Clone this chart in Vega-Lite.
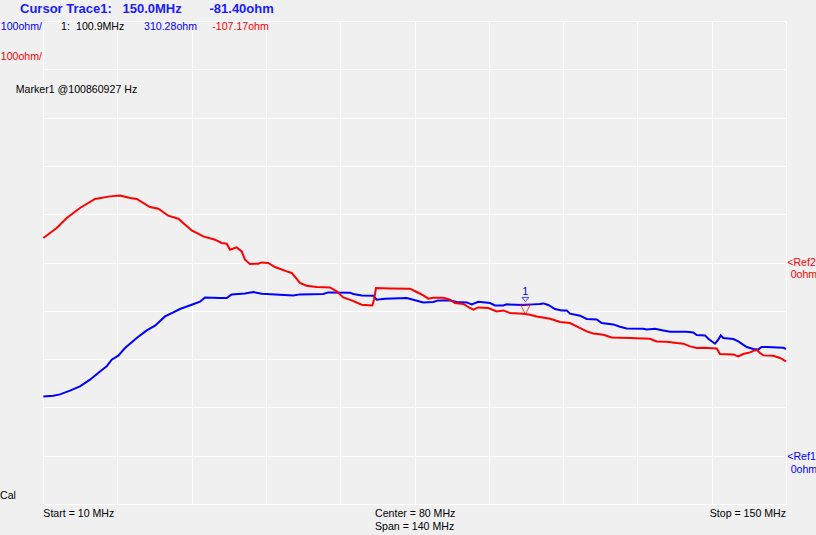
{
  "$schema": "https://vega.github.io/schema/vega-lite/v6.json",
  "width": 743,
  "height": 483,
  "autosize": {"type": "none"},
  "padding": {"left": 43, "top": 21, "right": 30, "bottom": 31},
  "background": "#f0f0f0",
  "config": {
    "view": {"stroke": null, "fill": "#f0f0f0"},
    "text": {"font": "Liberation Sans", "fontSize": 10.6}
  },
  "datasets": {
    "trace1": [
      {"f": 10.06, "v": 122.8}, {"f": 11.94, "v": 124.2}, {"f": 13.2, "v": 126.9}, {"f": 15.09, "v": 134.6},
      {"f": 16.97, "v": 143.5}, {"f": 18.86, "v": 157.4}, {"f": 20.74, "v": 174.5}, {"f": 22.0, "v": 184.9},
      {"f": 22.94, "v": 198.8}, {"f": 24.19, "v": 207.0}, {"f": 25.45, "v": 223.0}, {"f": 27.66, "v": 243.7},
      {"f": 29.54, "v": 259.4}, {"f": 31.11, "v": 269.2}, {"f": 32.99, "v": 288.4}, {"f": 34.55, "v": 296.7},
      {"f": 35.81, "v": 303.7}, {"f": 38.02, "v": 312.6}, {"f": 39.58, "v": 318.8}, {"f": 40.52, "v": 327.7},
      {"f": 43.35, "v": 326.5}, {"f": 44.61, "v": 326.5}, {"f": 45.55, "v": 334.0}, {"f": 48.06, "v": 336.0},
      {"f": 49.63, "v": 338.9}, {"f": 51.21, "v": 335.4}, {"f": 54.66, "v": 333.3}, {"f": 57.16, "v": 331.9},
      {"f": 58.42, "v": 334.0}, {"f": 62.82, "v": 334.8}, {"f": 63.76, "v": 338.1}, {"f": 67.85, "v": 337.5},
      {"f": 68.47, "v": 334.8}, {"f": 70.05, "v": 331.9}, {"f": 72.24, "v": 331.3}, {"f": 72.88, "v": 323.0},
      {"f": 74.44, "v": 325.1}, {"f": 78.53, "v": 326.5}, {"f": 79.77, "v": 323.0}, {"f": 81.66, "v": 317.4},
      {"f": 83.54, "v": 318.2}, {"f": 84.48, "v": 321.5}, {"f": 86.69, "v": 321.5}, {"f": 87.95, "v": 318.2},
      {"f": 89.84, "v": 317.4}, {"f": 90.78, "v": 313.3}, {"f": 92.02, "v": 318.8}, {"f": 94.23, "v": 316.1},
      {"f": 95.17, "v": 311.2}, {"f": 96.73, "v": 311.2}, {"f": 97.37, "v": 313.3}, {"f": 100.5, "v": 312.0},
      {"f": 102.38, "v": 313.3}, {"f": 103.65, "v": 314.1}, {"f": 104.27, "v": 315.3}, {"f": 105.21, "v": 312.0},
      {"f": 106.47, "v": 303.7}, {"f": 107.74, "v": 300.8}, {"f": 108.68, "v": 300.8}, {"f": 109.3, "v": 294.0},
      {"f": 111.19, "v": 289.9}, {"f": 112.45, "v": 283.0}, {"f": 114.33, "v": 282.2}, {"f": 115.27, "v": 274.7},
      {"f": 117.46, "v": 271.8}, {"f": 118.72, "v": 267.1}, {"f": 119.98, "v": 263.5}, {"f": 123.11, "v": 262.9},
      {"f": 123.75, "v": 261.5}, {"f": 125.31, "v": 262.9}, {"f": 126.88, "v": 259.4}, {"f": 128.14, "v": 256.7},
      {"f": 131.29, "v": 256.7}, {"f": 132.53, "v": 255.3}, {"f": 133.17, "v": 249.9}, {"f": 134.74, "v": 249.1},
      {"f": 135.36, "v": 242.2}, {"f": 136.62, "v": 231.9}, {"f": 137.24, "v": 240.2}, {"f": 137.7, "v": 249.1},
      {"f": 138.19, "v": 243.7}, {"f": 140.07, "v": 241.6}, {"f": 141.01, "v": 236.6}, {"f": 142.6, "v": 225.1},
      {"f": 143.84, "v": 220.9}, {"f": 144.78, "v": 220.1}, {"f": 145.42, "v": 225.1}, {"f": 146.36, "v": 225.1},
      {"f": 149.49, "v": 223.6}, {"f": 150.0, "v": 220.9}
    ],
    "trace2": [
      {"f": 10.06, "v": 50.7}, {"f": 12.58, "v": 71.4}, {"f": 14.47, "v": 92.1}, {"f": 16.97, "v": 112.8},
      {"f": 19.8, "v": 131.5}, {"f": 22.62, "v": 136.9}, {"f": 24.51, "v": 138.9}, {"f": 26.39, "v": 133.5},
      {"f": 27.66, "v": 131.5}, {"f": 30.16, "v": 114.9}, {"f": 31.73, "v": 111.4}, {"f": 33.61, "v": 96.9},
      {"f": 35.5, "v": 90.7}, {"f": 38.02, "v": 66.5}, {"f": 40.21, "v": 54.0}, {"f": 42.41, "v": 47.2},
      {"f": 43.67, "v": 40.4}, {"f": 44.61, "v": 38.9}, {"f": 45.24, "v": 26.5}, {"f": 46.5, "v": 31.3},
      {"f": 47.44, "v": 23.0}, {"f": 48.06, "v": 5.8}, {"f": 49.0, "v": -3.1}, {"f": 50.57, "v": -2.5},
      {"f": 51.21, "v": 0.2}, {"f": 52.45, "v": -1.0}, {"f": 53.71, "v": -9.3}, {"f": 55.92, "v": -18.4},
      {"f": 56.86, "v": -21.7}, {"f": 58.42, "v": -42.4}, {"f": 59.68, "v": -48.0}, {"f": 61.57, "v": -50.7},
      {"f": 64.08, "v": -51.6}, {"f": 65.34, "v": -59.8}, {"f": 66.58, "v": -72.3}, {"f": 68.17, "v": -78.5},
      {"f": 70.05, "v": -87.4}, {"f": 72.05, "v": -88.8}, {"f": 72.37, "v": -77.0}, {"f": 72.75, "v": -52.8},
      {"f": 75.38, "v": -53.6}, {"f": 79.15, "v": -54.2}, {"f": 80.41, "v": -61.1}, {"f": 81.66, "v": -68.1},
      {"f": 82.6, "v": -74.9}, {"f": 83.54, "v": -72.9}, {"f": 85.43, "v": -72.9}, {"f": 86.69, "v": -77.0},
      {"f": 87.63, "v": -83.9}, {"f": 89.2, "v": -85.9}, {"f": 90.46, "v": -94.2}, {"f": 91.08, "v": -97.7},
      {"f": 92.02, "v": -93.0}, {"f": 93.91, "v": -94.2}, {"f": 95.49, "v": -101.2}, {"f": 96.73, "v": -99.2},
      {"f": 98.0, "v": -104.6}, {"f": 100.5, "v": -106.0}, {"f": 101.76, "v": -108.1}, {"f": 103.03, "v": -111.6},
      {"f": 105.53, "v": -116.4}, {"f": 106.16, "v": -118.4}, {"f": 107.42, "v": -123.2}, {"f": 109.3, "v": -125.3},
      {"f": 110.56, "v": -132.3}, {"f": 112.45, "v": -142.7}, {"f": 113.69, "v": -146.9}, {"f": 115.58, "v": -149.6},
      {"f": 117.16, "v": -155.2}, {"f": 120.61, "v": -156.3}, {"f": 124.37, "v": -157.8}, {"f": 125.64, "v": -163.4},
      {"f": 127.52, "v": -164.0}, {"f": 129.4, "v": -166.7}, {"f": 130.65, "v": -168.1}, {"f": 131.91, "v": -173.7},
      {"f": 133.17, "v": -177.0}, {"f": 134.42, "v": -176.4}, {"f": 136.94, "v": -177.8}, {"f": 137.56, "v": -189.4},
      {"f": 140.07, "v": -190.3}, {"f": 141.01, "v": -194.4}, {"f": 141.95, "v": -189.4}, {"f": 143.22, "v": -186.1},
      {"f": 144.48, "v": -180.5}, {"f": 145.1, "v": -187.4}, {"f": 145.72, "v": -192.3}, {"f": 147.61, "v": -193.0},
      {"f": 148.87, "v": -197.7}, {"f": 150.0, "v": -204.7}
    ]
  },
  "resolve": {"scale": {"y": "independent"}},
  "layer": [
    {
      "data": {"name": "trace1"},
      "mark": {"type": "line", "color": "#0000ff", "strokeWidth": 2},
      "encoding": {
        "x": {"field": "f", "type": "quantitative",
              "scale": {"domain": [10, 150], "nice": false, "zero": false},
              "axis": {"values": [10, 24, 38, 52, 66, 80, 94, 108, 122, 136, 150], "labels": false, "ticks": false, "domain": false, "title": null, "grid": true, "gridColor": "#ffffff", "gridOpacity": 1, "gridWidth": 1}},
        "y": {"field": "v", "type": "quantitative",
              "scale": {"domain": [-100, 900], "nice": false, "zero": false},
              "axis": {"values": [-100, 0, 100, 200, 300, 400, 500, 600, 700, 800, 900], "labels": false, "ticks": false, "domain": false, "title": null, "grid": true, "gridColor": "#ffffff", "gridOpacity": 1, "gridWidth": 1}}
      }
    },
    {
      "data": {"name": "trace2"},
      "mark": {"type": "line", "color": "#ff0000", "strokeWidth": 2},
      "encoding": {
        "x": {"field": "f", "type": "quantitative"},
        "y": {"field": "v", "type": "quantitative", "scale": {"domain": [-500, 500], "nice": false, "zero": false}, "axis": null}
      }
    },
    {
      "data": {"values": [{"f": 100.9, "v": -107.17}]},
      "mark": {"type": "point", "shape": "M-1,-2L1,-2L0,0Z", "filled": false, "stroke": "#ff0000", "strokeWidth": 1, "size": 100},
      "encoding": {
        "x": {"field": "f", "type": "quantitative"},
        "y": {"field": "v", "type": "quantitative", "scale": {"domain": [-500, 500], "nice": false, "zero": false}, "axis": null}
      }
    },
    {
      "data": {"values": [{"f": 100.9, "v": 310.28}]},
      "layer": [
        {
          "mark": {"type": "point", "shape": "M-1,-2.4L1,-2.4L0,-1.2Z", "filled": false, "stroke": "#0000ff", "strokeWidth": 1, "size": 49},
          "encoding": {
            "x": {"field": "f", "type": "quantitative"},
            "y": {"field": "v", "type": "quantitative", "scale": {"domain": [-100, 900], "nice": false, "zero": false}, "axis": null}
          }
        },
        {
          "mark": {"type": "text", "text": "1", "color": "#0000ff", "dy": -14, "fontSize": 11},
          "encoding": {
            "x": {"field": "f", "type": "quantitative"},
            "y": {"field": "v", "type": "quantitative", "scale": {"domain": [-100, 900], "nice": false, "zero": false}, "axis": null}
          }
        }
      ]
    },
    {
      "data": {"values": [
        {"label": "Cursor Trace1:", "f": 5.67, "v": 925.6},
        {"label": "150.0MHz", "f": 24.98, "v": 925.6},
        {"label": "-81.40ohm", "f": 41.37, "v": 925.6}
      ]},
      "mark": {"type": "text", "align": "left", "baseline": "middle", "fontWeight": "bold", "fontSize": 13, "color": "#1a1aff"},
      "encoding": {
        "x": {"field": "f", "type": "quantitative"},
        "y": {"field": "v", "type": "quantitative", "scale": {"domain": [-100, 900], "nice": false, "zero": false}, "axis": null},
        "text": {"field": "label"}
      }
    },
    {
      "data": {"values": [
        {"label": "1:", "trace": "none", "f": 13.39, "v": 888.2},
        {"label": "100.9MHz", "trace": "none", "f": 16.22, "v": 888.2},
        {"label": "310.28ohm", "trace": "Trace1", "f": 29.03, "v": 888.2},
        {"label": "-107.17ohm", "trace": "Trace2", "f": 41.9, "v": 888.2},
        {"label": "Marker1 @100860927 Hz", "trace": "none", "f": 4.86, "v": 756.3},
        {"label": "<Ref2", "trace": "Trace2", "f": 150.24, "v": 399.0},
        {"label": "0ohm", "trace": "Trace2", "f": 150.88, "v": 373.3},
        {"label": "<Ref1", "trace": "Trace1", "f": 150.24, "v": -2.7},
        {"label": "0ohm", "trace": "Trace1", "f": 150.88, "v": -29.0},
        {"label": "Cal", "trace": "none", "f": 1.9, "v": -82.8},
        {"label": "Start = 10 MHz", "trace": "none", "f": 10.06, "v": -120.1},
        {"label": "Center = 80 MHz", "trace": "none", "f": 72.56, "v": -120.1},
        {"label": "Span = 140 MHz", "trace": "none", "f": 72.56, "v": -147.0}
      ]},
      "mark": {"type": "text", "align": "left", "baseline": "middle"},
      "encoding": {
        "x": {"field": "f", "type": "quantitative"},
        "y": {"field": "v", "type": "quantitative", "scale": {"domain": [-100, 900], "nice": false, "zero": false}, "axis": null},
        "text": {"field": "label"},
        "color": {"field": "trace", "type": "nominal", "scale": {"domain": ["Trace1", "Trace2", "none"], "range": ["#0000ff", "#ff0000", "#000000"]}, "legend": null}
      }
    },
    {
      "data": {"values": [
        {"label": "100ohm/", "trace": "Trace1", "f": 9.81, "v": 888.2},
        {"label": "100ohm/", "trace": "Trace2", "f": 9.81, "v": 826.1},
        {"label": "Stop = 150 MHz", "trace": "none", "f": 150.0, "v": -120.1}
      ]},
      "mark": {"type": "text", "align": "right", "baseline": "middle"},
      "encoding": {
        "x": {"field": "f", "type": "quantitative"},
        "y": {"field": "v", "type": "quantitative", "scale": {"domain": [-100, 900], "nice": false, "zero": false}, "axis": null},
        "text": {"field": "label"},
        "color": {"field": "trace", "type": "nominal", "scale": {"domain": ["Trace1", "Trace2", "none"], "range": ["#0000ff", "#ff0000", "#000000"]}, "legend": null}
      }
    }
  ]
}
